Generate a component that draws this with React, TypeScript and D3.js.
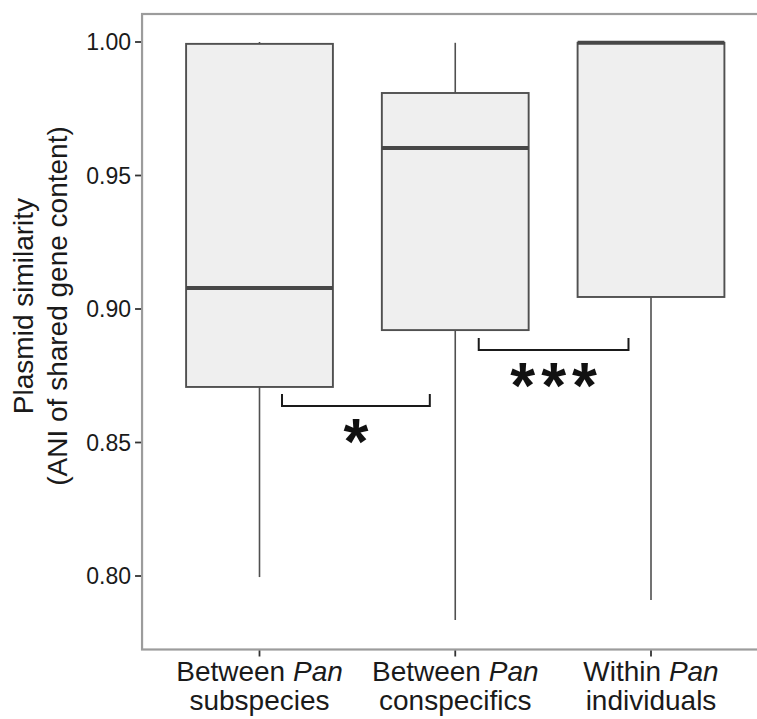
import React from "react";
import * as d3 from "d3";

const categories = ["subspecies", "conspecifics", "individuals"];
const labelLine1 = ["Between ", "Between ", "Within "];
const labelItalic = ["Pan", "Pan", "Pan"];
const labelLine2 = ["subspecies", "conspecifics", "individuals"];

const whiskerLow = [0.7996, 0.7835, 0.791];
const q1 = [0.8708, 0.8921, 0.9045];
const median = [0.9079, 0.9603, 0.9997];
const q3 = [0.9993, 0.9809, 0.9997];
const whiskerHigh = [1.0, 0.9997, 1.0];

const yTicks = [0.8, 0.85, 0.9, 0.95, 1.0];

const bracketFrom = [0.115, 1.12];
const bracketTo = [0.87, 1.885];
const bracketY = [0.8637, 0.8846];
const bracketTip = [0.8682, 0.8891];
const bracketLabel = ["*", "***"];

const W = 757;
const H = 719;

export default function App() {
  const idx = d3.scaleLinear().domain([0, 2]).range([259.5, 651]);
  const step = idx(1) - idx(0);
  const boxW = step * 0.75;
  const y = d3.scaleLinear().domain([0.8, 1.0]).range([576, 42]);
  const panelLeft = idx(-0.6);
  const panelRight = idx(2.6);
  const panelTop = 14;
  const panelBottom = 649.5;
  const font = "'Liberation Sans', Arial, Helvetica, sans-serif";

  return (
    <svg
      width={W}
      height={H}
      style={{ position: "absolute", left: 0, top: 0, background: "#fff" }}
      fontFamily={font}
    >
      <rect x={0} y={0} width={W} height={H} fill="#fff" />
      {/* boxes */}
      {categories.map((c, i) => {
        const cx = idx(i);
        return (
          <g key={c}>
            <line x1={cx} x2={cx} y1={y(q3[i])} y2={y(whiskerHigh[i])} stroke="#505050" strokeWidth={1.6} />
            <line x1={cx} x2={cx} y1={y(q1[i])} y2={y(whiskerLow[i])} stroke="#505050" strokeWidth={1.6} />
            <rect
              x={cx - boxW / 2}
              y={y(q3[i])}
              width={boxW}
              height={y(q1[i]) - y(q3[i])}
              fill="#efefef"
              stroke="#505050"
              strokeWidth={1.9}
            />
            <line x1={cx - boxW / 2} x2={cx + boxW / 2} y1={y(median[i])} y2={y(median[i])} stroke="#474747" strokeWidth={4} />
          </g>
        );
      })}
      {/* brackets */}
      {bracketLabel.map((lab, i) => {
        const x1 = idx(bracketFrom[i]);
        const x2 = idx(bracketTo[i]);
        const yy = y(bracketY[i]);
        const yt = y(bracketTip[i]);
        return (
          <g key={i}>
            <path
              d={`M${x1},${yt}V${yy}H${x2}V${yt}`}
              fill="none"
              stroke="#1a1a1a"
              strokeWidth={2}
            />
            <text
              x={(x1 + x2) / 2 + (lab.length > 1 ? 3 : 0)}
              y={yy + 58}
              textAnchor="middle"
              fontSize={64}
              fontWeight="bold"
              fill="#111"
              letterSpacing={lab.length > 1 ? 6 : 0}
            >
              {lab}
            </text>
          </g>
        );
      })}
      {/* panel border */}
      <rect
        x={panelLeft}
        y={panelTop}
        width={panelRight - panelLeft}
        height={panelBottom - panelTop}
        fill="none"
        stroke="#9c9c9c"
        strokeWidth={2.2}
      />
      {/* y axis */}
      {yTicks.map((t) => (
        <g key={t}>
          <line x1={panelLeft - 7} x2={panelLeft - 1} y1={y(t)} y2={y(t)} stroke="#333" strokeWidth={1.8} />
          <text x={panelLeft - 11} y={y(t)} dy="0.36em" textAnchor="end" fontSize={23} fill="#1a1a1a">
            {d3.format(".2f")(t)}
          </text>
        </g>
      ))}
      {/* x axis */}
      {categories.map((c, i) => (
        <g key={c}>
          <line x1={idx(i)} x2={idx(i)} y1={panelBottom + 1} y2={panelBottom + 7} stroke="#333" strokeWidth={1.8} />
          <text x={idx(i)} y={681} textAnchor="middle" fontSize={28} fill="#1a1a1a">
            {labelLine1[i]}
            <tspan fontStyle="italic">{labelItalic[i]}</tspan>
          </text>
          <text x={idx(i)} y={710} textAnchor="middle" fontSize={28} fill="#1a1a1a">
            {labelLine2[i]}
          </text>
        </g>
      ))}
      {/* y title */}
      <text transform="translate(33,306) rotate(-90)" textAnchor="middle" fontSize={28} fill="#1a1a1a">
        Plasmid similarity
      </text>
      <text transform="translate(67,306) rotate(-90)" textAnchor="middle" fontSize={28} fill="#1a1a1a">
        (ANI of shared gene content)
      </text>
    </svg>
  );
}
